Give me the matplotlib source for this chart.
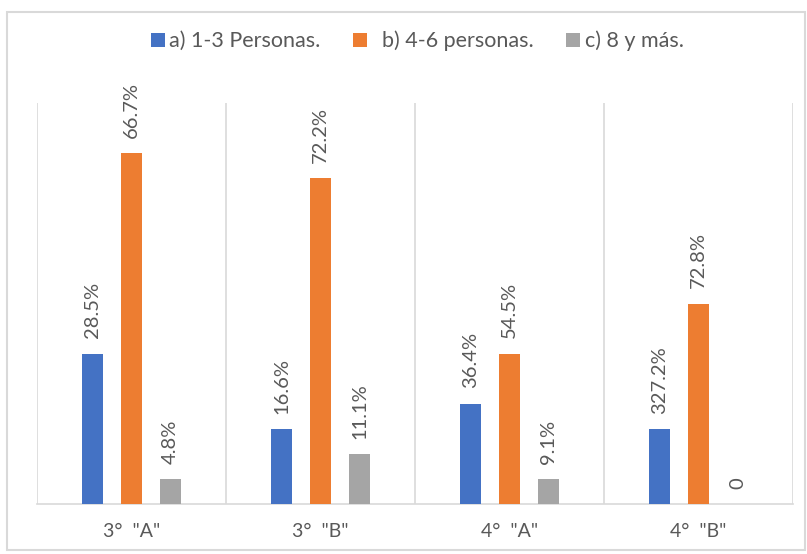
import matplotlib.pyplot as plt
from matplotlib.patches import Rectangle
import numpy as np

# Datos (alturas = número de alumnos, etiquetas = porcentajes mostrados)
categorias = ['3°  "A"', '3°  "B"', '4°  "A"', '4°  "B"']
series = ['a) 1-3 Personas.', '  b) 4-6 personas.', 'c) 8 y más.']
conteo_a = [6, 3, 4, 3]
conteo_b = [14, 13, 6, 8]
conteo_c = [1, 2, 1, 0]
etiquetas_a = ['28.5%', '16.6%', '36.4%', '327.2%']
etiquetas_b = ['66.7%', '72.2%', '54.5%', '72.8%']
etiquetas_c = ['4.8%', '11.1%', '9.1%', '0']
colores = ['#4472C4', '#ED7D31', '#A5A5A5']

plt.rcParams['font.family'] = ['Lato', 'DejaVu Sans']
gris = '#595959'
linea = '#D9D9D9'

fig = plt.figure(figsize=(8.07, 5.54), dpi=100)
ax = fig.add_axes([37 / 807, 50 / 554, 756 / 807, 401 / 554])

x = np.arange(len(categorias))
ancho = 0.111
paso = 0.206
valores = [conteo_a, conteo_b, conteo_c]
etiquetas = [etiquetas_a, etiquetas_b, etiquetas_c]
for i in range(3):
    pos = x + (i - 1) * paso
    barras = ax.bar(pos, valores[i], width=ancho, color=colores[i], label=series[i], zorder=3)
    ax.bar_label(barras, labels=etiquetas[i], rotation=90, padding=11,
                 color=gris, fontsize=14.5)

ax.set_xlim(-0.5, len(categorias) - 0.5)
ax.set_ylim(0, 16)
for b in np.arange(-0.5, len(categorias), 1):
    ax.axvline(b, color=linea, lw=1.2, zorder=1)

for s in ['top', 'left', 'right']:
    ax.spines[s].set_visible(False)
ax.spines['bottom'].set_color(linea)
ax.spines['bottom'].set_linewidth(1.2)
ax.set_yticks([])
ax.set_xticks(x)
ax.set_xticklabels(categorias, color=gris, fontsize=14)
ax.tick_params(axis='x', length=0, pad=13.5)

fig.legend(loc='center', bbox_to_anchor=(0.517, 1 - 41 / 554), ncol=3, frameon=False,
           fontsize=15.5, handlelength=0.65, handleheight=0.65, handletextpad=0.2,
           columnspacing=1.5, labelcolor=gris)

# borde del gráfico
fig.patches.append(Rectangle((7 / 807, 4 / 554), 798 / 807, 538 / 554, transform=fig.transFigure,
                             fill=False, edgecolor=linea, lw=1.5))

fig.savefig('out.png', dpi=100)
